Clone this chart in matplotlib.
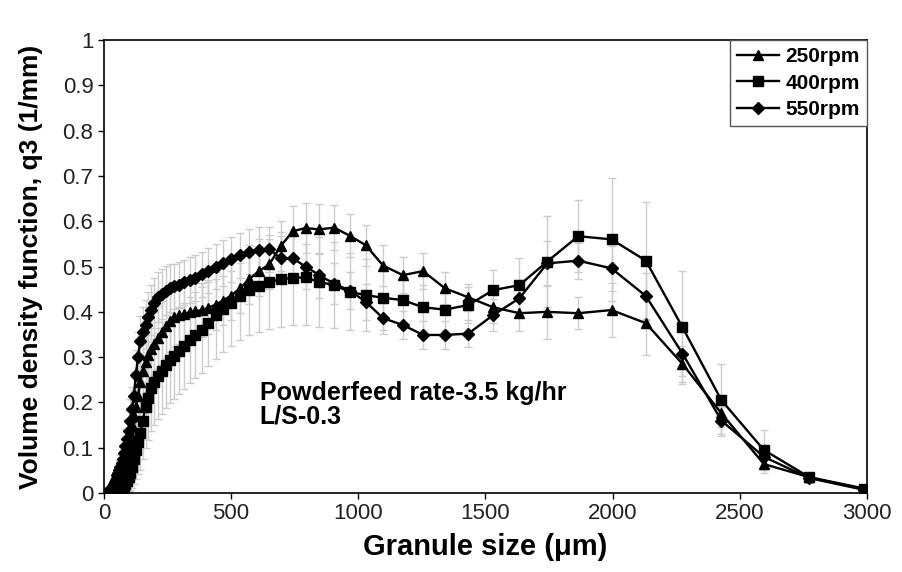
import matplotlib
matplotlib.use("Agg")
import matplotlib.pyplot as plt
from matplotlib.ticker import FuncFormatter

plt.rcParams['font.family'] = ['Liberation Sans', 'DejaVu Sans']

# granule size classes (um)
size_um = [20, 21, 22, 24, 26, 27, 29, 31, 34, 36, 38, 41, 44, 47, 50, 53, 57, 61,
           65, 70, 74, 79, 85, 91, 97, 103, 110, 118, 126, 134, 143, 153, 164, 175,
           187, 199, 213, 227, 243, 259, 277, 296, 316, 337, 360, 385, 411, 439, 469,
           501, 535, 571, 610, 651, 695, 743, 793, 847, 905, 967, 1030, 1098, 1176,
           1255, 1341, 1433, 1531, 1634, 1743, 1865, 1996, 2131, 2275, 2428, 2595,
           2774, 2990]

# q3 values (1/mm)
q3_250 = [0.003, 0.003, 0.004, 0.005, 0.006, 0.007, 0.008, 0.009, 0.011, 0.013, 0.015,
          0.018, 0.021, 0.025, 0.029, 0.033, 0.038, 0.044, 0.050, 0.057, 0.065, 0.075,
          0.087, 0.100, 0.115, 0.132, 0.150, 0.170, 0.190, 0.215, 0.245, 0.270, 0.290,
          0.305, 0.318, 0.330, 0.343, 0.355, 0.368, 0.380, 0.388, 0.393, 0.396, 0.399,
          0.401, 0.404, 0.409, 0.416, 0.425, 0.436, 0.452, 0.472, 0.490, 0.505, 0.545,
          0.578, 0.585, 0.582, 0.586, 0.568, 0.547, 0.502, 0.481, 0.490, 0.452, 0.432,
          0.410, 0.397, 0.400, 0.397, 0.404, 0.375, 0.285, 0.176, 0.064, 0.035, 0.010]
q3_400 = [0.001, 0.001, 0.001, 0.001, 0.001, 0.001, 0.001, 0.001, 0.002, 0.002, 0.002,
          0.002, 0.002, 0.003, 0.003, 0.004, 0.005, 0.006, 0.007, 0.009, 0.011, 0.014,
          0.020, 0.027, 0.035, 0.045, 0.058, 0.075, 0.095, 0.113, 0.132, 0.160, 0.190,
          0.210, 0.232, 0.245, 0.258, 0.270, 0.282, 0.293, 0.303, 0.313, 0.325, 0.337,
          0.349, 0.360, 0.376, 0.392, 0.407, 0.420, 0.435, 0.448, 0.458, 0.466, 0.472,
          0.475, 0.476, 0.466, 0.459, 0.444, 0.437, 0.431, 0.426, 0.410, 0.405, 0.415,
          0.448, 0.459, 0.511, 0.567, 0.560, 0.513, 0.366, 0.205, 0.095, 0.035, 0.008]
q3_550 = [0.004, 0.004, 0.005, 0.006, 0.007, 0.008, 0.009, 0.011, 0.013, 0.015, 0.018,
          0.021, 0.025, 0.029, 0.034, 0.039, 0.045, 0.052, 0.058, 0.066, 0.076, 0.088,
          0.103, 0.120, 0.137, 0.160, 0.185, 0.215, 0.260, 0.300, 0.335, 0.355, 0.372,
          0.388, 0.405, 0.420, 0.432, 0.440, 0.447, 0.452, 0.456, 0.460, 0.465, 0.470,
          0.475, 0.483, 0.491, 0.500, 0.508, 0.516, 0.525, 0.533, 0.537, 0.538, 0.518,
          0.518, 0.500, 0.481, 0.462, 0.447, 0.422, 0.386, 0.371, 0.349, 0.349, 0.352,
          0.393, 0.430, 0.507, 0.513, 0.496, 0.435, 0.308, 0.160, 0.080, 0.033, 0.007]

# standard deviations (grey error bars)
sd_250 = [0.002, 0.002, 0.002, 0.003, 0.003, 0.004, 0.004, 0.005, 0.006, 0.007, 0.008,
          0.010, 0.012, 0.014, 0.016, 0.018, 0.020, 0.022, 0.025, 0.028, 0.031, 0.034,
          0.038, 0.042, 0.046, 0.050, 0.055, 0.058, 0.060, 0.062, 0.064, 0.066, 0.068,
          0.070, 0.070, 0.070, 0.070, 0.070, 0.070, 0.068, 0.066, 0.065, 0.064, 0.063,
          0.062, 0.060, 0.058, 0.056, 0.055, 0.055, 0.055, 0.055, 0.055, 0.055, 0.055,
          0.055, 0.055, 0.055, 0.050, 0.048, 0.045, 0.045, 0.040, 0.040, 0.035, 0.030,
          0.035, 0.040, 0.060, 0.035, 0.060, 0.070, 0.040, 0.030, 0.020, 0.008, 0.004]
sd_400 = [0.001, 0.001, 0.001, 0.001, 0.001, 0.001, 0.001, 0.001, 0.001, 0.001, 0.001,
          0.001, 0.002, 0.002, 0.002, 0.003, 0.004, 0.005, 0.006, 0.008, 0.010, 0.013,
          0.018, 0.024, 0.030, 0.038, 0.046, 0.055, 0.065, 0.072, 0.080, 0.085, 0.090,
          0.092, 0.094, 0.095, 0.095, 0.095, 0.095, 0.095, 0.095, 0.095, 0.095, 0.095,
          0.095, 0.095, 0.095, 0.095, 0.095, 0.095, 0.098, 0.100, 0.102, 0.104, 0.105,
          0.105, 0.105, 0.100, 0.095, 0.085, 0.080, 0.070, 0.060, 0.050, 0.045, 0.040,
          0.045, 0.060, 0.100, 0.080, 0.135, 0.130, 0.125, 0.080, 0.045, 0.010, 0.005]
sd_550 = [0.002, 0.002, 0.002, 0.003, 0.003, 0.004, 0.004, 0.005, 0.006, 0.007, 0.008,
          0.010, 0.012, 0.014, 0.016, 0.018, 0.020, 0.022, 0.025, 0.028, 0.031, 0.034,
          0.038, 0.042, 0.045, 0.048, 0.050, 0.052, 0.055, 0.055, 0.055, 0.055, 0.055,
          0.055, 0.055, 0.055, 0.055, 0.055, 0.055, 0.053, 0.050, 0.050, 0.050, 0.050,
          0.050, 0.050, 0.050, 0.050, 0.050, 0.050, 0.050, 0.050, 0.050, 0.050, 0.050,
          0.050, 0.050, 0.050, 0.045, 0.040, 0.040, 0.035, 0.030, 0.030, 0.030, 0.030,
          0.035, 0.040, 0.050, 0.040, 0.050, 0.050, 0.050, 0.030, 0.020, 0.008, 0.004]

series = [
    ('250rpm', q3_250, sd_250, '^'),
    ('400rpm', q3_400, sd_400, 's'),
    ('550rpm', q3_550, sd_550, 'D'),
]

fig = plt.figure(figsize=(9.03, 5.72), dpi=100)
ax = fig.add_axes([0.115, 0.138, 0.845, 0.792])

# error bars first, behind the lines
for label, y, sd, mk in series:
    ax.errorbar(size_um, y, yerr=sd, fmt='none', ecolor='#cccccc',
                elinewidth=1.0, capsize=3, capthick=1.0, zorder=1)

for label, y, sd, mk in series:
    ms = 6.5 if mk == 'D' else 7.8
    ax.plot(size_um, y, color='black', lw=1.7, marker=mk, ms=ms,
            mfc='black', mec='black', label=label, zorder=3)

ax.set_xlim(0, 3000)
ax.set_ylim(0, 1)
ax.set_xticks(range(0, 3001, 500))
ax.set_yticks([i / 10 for i in range(11)])
ax.yaxis.set_major_formatter(FuncFormatter(lambda v, p: f'{v:g}'))
ax.tick_params(direction='out', length=4, width=1, labelsize=16,
               labelcolor='#222222', top=False, right=False)
for sp in ax.spines.values():
    sp.set_linewidth(1.2)

ax.set_xlabel('Granule size (\u03bcm)', fontsize=21, fontweight='bold', labelpad=6)
ax.set_ylabel('Volume density function, q3 (1/mm)', fontsize=19,
              fontweight='bold', labelpad=14)

ax.text(612, 0.248, 'Powderfeed rate-3.5 kg/hr\nL/S-0.3', fontsize=18,
        fontweight='bold', ha='left', va='top', linespacing=1.0)

leg = ax.legend(loc='upper right', borderaxespad=0.0, fancybox=False,
                edgecolor='#555555', framealpha=1, handlelength=2.0,
                handletextpad=0.3, labelspacing=0.35, borderpad=0.35,
                prop={'weight': 'bold', 'size': 15})
leg.get_frame().set_linewidth(1.0)

fig.savefig('out.png', dpi=100)
